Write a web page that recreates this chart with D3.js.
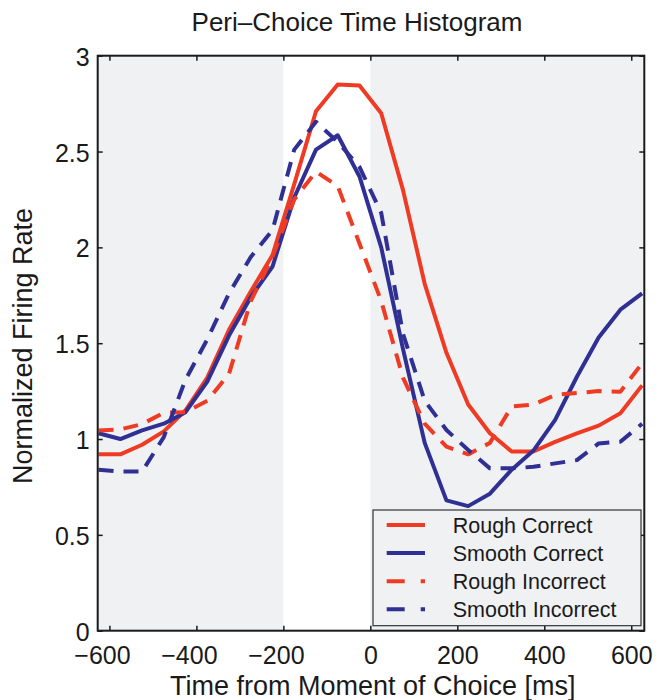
<!DOCTYPE html>
<meta charset="utf-8">
<style>
body { margin: 0; background: #fff; }
text { font-family: "Liberation Sans", Arial, sans-serif; fill: #1a1a1a; }
.line { fill: none; stroke-width: 4px; stroke-linejoin: round; }
.axis line { stroke: #1a1a1a; stroke-width: 1.5px; }
.axis path { display: none; }
</style>
<body>
<script src="https://d3js.org/d3.v7.min.js"></script>
<script>

// time bins (ms) and normalized firing rates
var times = [-625, -575, -525, -475, -425, -375, -325, -275, -225, -175, -125, -75, -25,
             25, 75, 125, 175, 225, 275, 325, 375, 425, 475, 525, 575, 625];

var roughCorrect = [0.92, 0.92, 0.97, 1.04, 1.15, 1.32, 1.57, 1.77, 1.96, 2.33, 2.71, 2.85, 2.845,
                    2.70, 2.30, 1.81, 1.45, 1.18, 1.03, 0.935, 0.935, 0.985, 1.03, 1.07, 1.135, 1.28];
var smoothCorrect = [1.03, 1.00, 1.045, 1.08, 1.14, 1.30, 1.54, 1.74, 1.90, 2.26, 2.51, 2.585, 2.37,
                     2.00, 1.47, 0.98, 0.68, 0.65, 0.715, 0.84, 0.94, 1.10, 1.325, 1.53, 1.675, 1.76];
var roughIncorrect = [1.045, 1.05, 1.078, 1.137, 1.14, 1.20, 1.34, 1.72, 1.95, 2.25, 2.395, 2.32, 2.02,
                      1.72, 1.32, 1.08, 0.96, 0.92, 0.98, 1.17, 1.18, 1.23, 1.24, 1.25, 1.247, 1.395];
var smoothIncorrect = [0.84, 0.83, 0.83, 1.01, 1.31, 1.52, 1.76, 1.95, 2.09, 2.51, 2.655, 2.55, 2.42,
                       2.18, 1.55, 1.20, 1.047, 0.943, 0.847, 0.847, 0.855, 0.873, 0.89, 0.977, 0.986, 1.08];

var seriesNames = ["Rough Correct", "Smooth Correct", "Rough Incorrect", "Smooth Incorrect"];
var seriesValues = [roughCorrect, smoothCorrect, roughIncorrect, smoothIncorrect];
var xTicks = [-600, -400, -200, 0, 200, 400, 600];
var yTicks = [0, 0.5, 1, 1.5, 2, 2.5, 3];
var whiteWindow = [-200, 0];

var red = "#ef3b24", blue = "#2f2f94";
var colors = [red, blue, red, blue];
var dashes = [null, null, "15,10", "15,10"];

var svg = d3.select("body").append("svg")
    .attr("width", 660)
    .attr("height", 700);

var x = d3.scaleLinear().domain([-627, 630]).range([97.7, 644.3]);
var y = d3.scaleLinear().domain([0, 3]).range([630.7, 55.7]);

// grey background with the white window around the choice
svg.append("rect")
    .attr("x", x.range()[0]).attr("y", y.range()[1])
    .attr("width", x.range()[1] - x.range()[0])
    .attr("height", y.range()[0] - y.range()[1])
    .attr("fill", "#f0f1f3");
svg.append("rect")
    .attr("x", x(whiteWindow[0])).attr("y", y.range()[1])
    .attr("width", x(whiteWindow[1]) - x(whiteWindow[0]))
    .attr("height", y.range()[0] - y.range()[1])
    .attr("fill", "#fff");

svg.append("clipPath").attr("id", "clip")
  .append("rect")
    .attr("x", x.range()[0]).attr("y", y.range()[1])
    .attr("width", x.range()[1] - x.range()[0])
    .attr("height", y.range()[0] - y.range()[1]);

// axes, ticks pointing inward on all four sides
svg.append("g").attr("class", "axis")
    .attr("transform", "translate(0," + y.range()[0] + ")")
    .call(d3.axisBottom(x).tickValues(xTicks).tickSizeInner(-5).tickSizeOuter(0).tickPadding(16))
  .selectAll("text")
    .style("font-size", "25px")
    .attr("dx", function(d) { return d < 0 ? "-0.3em" : 0; });

svg.append("g").attr("class", "axis")
    .attr("transform", "translate(0," + y.range()[1] + ")")
    .call(d3.axisTop(x).tickValues(xTicks).tickSizeInner(-5).tickSizeOuter(0).tickFormat(""));

svg.append("g").attr("class", "axis")
    .attr("transform", "translate(" + x.range()[0] + ",0)")
    .call(d3.axisLeft(y).tickValues(yTicks).tickSizeInner(-5).tickSizeOuter(0).tickPadding(8)
      .tickFormat(d3.format("~g")))
  .selectAll("text")
    .style("font-size", "25px")
    .attr("dy", "0.38em");

svg.append("g").attr("class", "axis")
    .attr("transform", "translate(" + x.range()[1] + ",0)")
    .call(d3.axisRight(y).tickValues(yTicks).tickSizeInner(-5).tickSizeOuter(0).tickFormat(""));

// the lines
var line = d3.line()
    .x(function(d, i) { return x(times[i]); })
    .y(function(d) { return y(d); });

svg.append("g").attr("clip-path", "url(#clip)")
  .selectAll("path")
    .data(seriesValues)
  .enter().append("path")
    .attr("class", "line")
    .attr("d", line)
    .attr("stroke", function(d, i) { return colors[i]; })
    .attr("stroke-dasharray", function(d, i) { return dashes[i]; });

// frame
svg.append("rect")
    .attr("x", x.range()[0]).attr("y", y.range()[1])
    .attr("width", x.range()[1] - x.range()[0])
    .attr("height", y.range()[0] - y.range()[1])
    .attr("fill", "none")
    .attr("stroke", "#1a1a1a")
    .attr("stroke-width", 2);

// legend
var legend = svg.append("g").attr("transform", "translate(373,510)");
legend.append("rect")
    .attr("width", 268).attr("height", 115.7)
    .attr("fill", "#f0f1f3")
    .attr("stroke", "#333").attr("stroke-width", 1.2);

var item = legend.selectAll(".item")
    .data(seriesNames)
  .enter().append("g")
    .attr("class", "item")
    .attr("transform", function(d, i) { return "translate(0," + (15 + i * 28.1) + ")"; });

item.append("line")
    .attr("x1", 13.7).attr("x2", 52)
    .attr("stroke", function(d, i) { return colors[i]; })
    .attr("stroke-width", 4)
    .attr("stroke-dasharray", function(d, i) { return dashes[i] ? "18,16" : null; });

item.append("text")
    .attr("x", 79.7)
    .attr("dy", "0.36em")
    .style("font-size", "21.5px")
    .text(function(d) { return d; });

// titles
svg.append("text")
    .attr("x", 357).attr("y", 31)
    .attr("text-anchor", "middle")
    .style("font-size", "26px")
    .text("Peri\u2013Choice Time Histogram");

svg.append("text")
    .attr("x", 372.8).attr("y", 695)
    .attr("text-anchor", "middle")
    .style("font-size", "27px")
    .text("Time from Moment of Choice [ms]");

svg.append("text")
    .attr("transform", "translate(32,346) rotate(-90)")
    .attr("text-anchor", "middle")
    .style("font-size", "27px")
    .text("Normalized Firing Rate");

</script>
</body>
